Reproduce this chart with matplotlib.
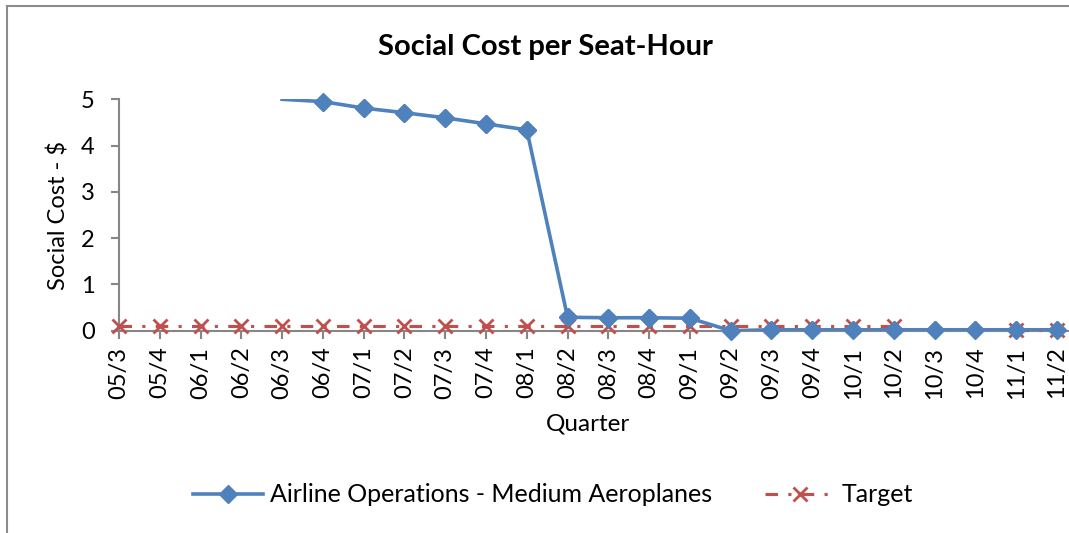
import numpy as np
import matplotlib
matplotlib.use("Agg")
import matplotlib.pyplot as plt
from matplotlib.patches import Rectangle

quarters = ['05/3', '05/4', '06/1', '06/2', '06/3', '06/4', '07/1', '07/2', '07/3', '07/4',
            '08/1', '08/2', '08/3', '08/4', '09/1', '09/2', '09/3', '09/4', '10/1', '10/2',
            '10/3', '10/4', '11/1', '11/2']
# 06/3 lies above the axis maximum (drawn clipped at 5)
airline = [np.nan, np.nan, np.nan, np.nan, 5.0, 4.95, 4.81, 4.71, 4.60, 4.47,
           4.34, 0.29, 0.28, 0.28, 0.27, 0.0, 0.02, 0.02, 0.02, 0.02,
           0.02, 0.02, 0.02, 0.02]
target = [0.11, 0.11, 0.11, 0.11, 0.11, 0.11, 0.11, 0.11, 0.11, 0.11,
          0.11, 0.11, 0.11, 0.11, 0.11, 0.11, 0.11, 0.11, 0.11, 0.11,
          np.nan, np.nan, 0.02, 0.02]
yticks = [0, 1, 2, 3, 4, 5]

FONT = 'Lato'
plt.rcParams['font.family'] = [FONT, 'DejaVu Sans']

W, H = 1069, 533
fig = plt.figure(figsize=(W / 100, H / 100), dpi=100)
fig.patch.set_facecolor('white')

# chart border (extends past right/bottom edges)
fig.patches.append(Rectangle((7 / W, -0.1), 1.2, 1 - 6 / H + 0.1, transform=fig.transFigure,
                             fill=False, edgecolor='#8c8c8c', linewidth=1.5))

ax = fig.add_axes([119 / W, 1 - 330.7 / H, 1 - 119 / W, (330.7 - 99.3) / H])
x = np.arange(len(quarters))

blue = '#4F81BD'
red = '#C0504D'
gray = '#868686'

tgt_vals = np.array(target, dtype=float)
ax.plot(x, tgt_vals, color=red, linewidth=2.25, linestyle=(0, (4, 3.3, 1, 3.3)),
        dash_capstyle='butt', marker='x', markersize=10, markeredgewidth=2.0,
        clip_on=False, zorder=3, label='Target')

air_vals = np.array(airline, dtype=float)
vis = [i for i, v in enumerate(air_vals) if not np.isnan(v) and v < 5]
ax.plot(x, air_vals, color=blue, linewidth=2.6, marker='D', markersize=9,
        markevery=vis, clip_on=True, zorder=4,
        label='Airline Operations - Medium Aeroplanes')
ax.plot(x[vis], air_vals[vis], linestyle='none', color=blue, marker='D', markersize=9,
        clip_on=False, zorder=4)

ax.set_xlim(0, (W - 119) / 40.78)
ax.set_ylim(0, 5)
ax.set_yticks(yticks)
ax.set_yticklabels([str(t) for t in yticks], fontsize=17)
ax.set_xticks(x)
ax.set_xticklabels(quarters, rotation=90, fontsize=17)
for s in ['top', 'right']:
    ax.spines[s].set_visible(False)
for s in ['left', 'bottom']:
    ax.spines[s].set_color(gray)
    ax.spines[s].set_linewidth(1.5)
ax.tick_params(axis='both', colors=gray, labelcolor='black', width=1.5, length=5.5, direction='out')
ax.tick_params(axis='x', pad=6)
ax.tick_params(axis='y', pad=12)
ax.set_facecolor('none')

fig.text(545.5 / W, 1 - 47 / H, 'Social Cost per Seat-Hour', ha='center', va='center',
         fontsize=21, fontweight='bold')
fig.text(59 / W, 1 - 215 / H, 'Social Cost - $', ha='center', va='center', rotation=90,
         fontsize=17)
fig.text(588 / W, 1 - 424 / H, 'Quarter', ha='center', va='center', fontsize=17.5)

h, l = ax.get_legend_handles_labels()
leg = fig.legend(h[::-1][:2], l[::-1][:2], loc='center', bbox_to_anchor=(553 / W, 1 - 495 / H),
                 ncol=2, frameon=False, fontsize=18, handlelength=2.8, handletextpad=0.3,
                 columnspacing=2.1)

fig.savefig('out.png', dpi=100)
